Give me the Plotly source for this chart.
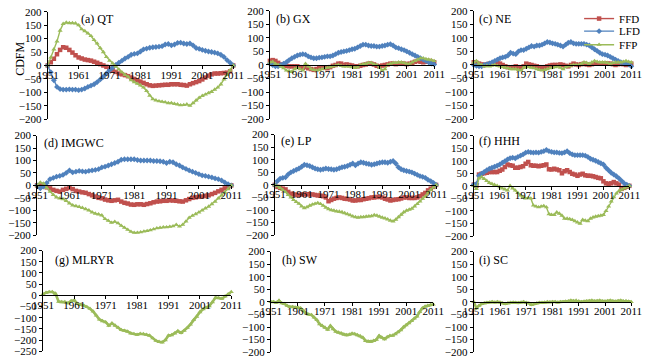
import plotly.graph_objects as go

W, H = 650, 363
years = list(range(1951, 2012))
year_ticks = [1951, 1961, 1971, 1981, 1991, 2001, 2011]

# (a) QT
qt_ffd = [0, 12, 25, 42, 58, 68, 66, 58, 48, 38,
          30, 26, 22, 20, 18, 14, 10, 5, 0, -5,
          -12, -18, -24, -30, -33, -36, -40, -45, -50, -55,
          -60, -65, -70, -74, -76, -75, -74, -73, -72, -72,
          -70, -70, -70, -72, -73, -75, -70, -66, -62, -58,
          -52, -45, -38, -33, -30, -30, -29, -28, -27, -22,
          0]
qt_lfd = [0, -25, -55, -80, -88, -90, -90, -89, -90, -90,
          -92, -90, -86, -80, -75, -70, -62, -52, -42, -30,
          -18, -8, 2, 10, 18, 26, 32, 40, 43, 45,
          52, 60, 63, 66, 68, 69, 70, 72, 78, 80,
          75, 78, 84, 85, 82, 80, 82, 75, 65, 62,
          58, 55, 52, 50, 48, 45, 40, 32, 20, 10,
          0]
qt_ffp = [0, 30, 60, 90, 130, 155, 160, 158, 158, 157,
          150, 135, 128, 120, 110, 95, 82, 65, 50, 32,
          18, 8, -3, -15, -25, -35, -42, -55, -62, -68,
          -74, -82, -95, -112, -125, -130, -133, -135, -137, -140,
          -140, -143, -145, -148, -147, -145, -150, -140, -130, -120,
          -113, -108, -103, -98, -90, -82, -70, -52, -35, -18,
          0]
# (b) GX
gx_ffd = [15, 18, 15, 8, 2, 0, -3, -5, -5, -5,
          -5, -8, -10, -8, -12, -15, -18, -15, -12, -10,
          -10, -12, -8, -3, 0, 5, 5, 0, 2, 0,
          -2, -5, -5, -3, 0, 2, 5, 5, 2, -3,
          -5, -2, 0, 2, 5, 5, 3, 5, 5, 5,
          3, 5, 8, 12, 15, 12, 10, 12, 15, 12,
          10]
gx_lfd = [5, 0, -5, -5, 0, 5, 10, 18, 25, 30,
          35, 38, 40, 38, 32, 28, 25, 25, 27, 28,
          30, 32, 32, 35, 40, 45, 48, 50, 52, 55,
          58, 60, 65, 70, 75, 75, 72, 70, 70, 68,
          68, 70, 72, 75, 77, 72, 65, 62, 58, 55,
          50, 45, 40, 35, 30, 25, 20, 15, 10, 5,
          2]
gx_ffp = [10, 12, 5, 0, -5, -12, -20, -22, -25, -15,
          -10, -15, -20, 5, -5, -15, -18, -20, -18, -15,
          -12, -10, -8, -5, -2, 0, -3, -5, -5, -5,
          -8, -10, -8, 0, 3, 5, 8, 8, 3, 0,
          -10, -20, -15, 0, 5, 8, 8, 10, 10, 8,
          5, 5, 10, 15, 20, 25, 25, 22, 20, 18,
          15]
# (c) NE
ne_ffd = [10, 8, 5, 2, 0, 2, 5, 5, 5, 8,
          5, 0, -5, -8, -10, -8, -5, -8, -10, -5,
          5, 2, 0, -3, -5, -8, -10, -8, -5, -2,
          0, 0, 0, 2, 0, -3, -5, 0, 5, 2,
          0, 3, 5, 2, 0, 3, 5, 5, 5, 5,
          5, 5, 5, 3, 0, 3, 5, 3, 0, 2,
          5]
ne_lfd = [0, -3, -5, -5, 0, 3, 6, 10, 15, 20,
          25, 28, 30, 35, 45, 42, 40, 50, 55, 55,
          60, 65, 70, 68, 72, 72, 75, 80, 85, 83,
          80, 78, 75, 72, 68, 75, 82, 85, 80, 78,
          78, 78, 78, 75, 72, 65, 58, 52, 45, 40,
          38, 35, 30, 25, 20, 15, 10, 8, 5, 2,
          -5]
ne_ffp = [10, 15, 5, 0, -5, -3, -5, -2, 0, -3,
          -5, -8, -10, -12, -15, -15, -15, -18, -20, -10,
          -5, -8, -10, -12, -15, -18, -20, -18, -15, -12,
          -10, -8, -5, -10, -15, -8, -5, -2, 0, 0,
          0, 5, 10, 8, 5, 10, 15, 12, 10, 10,
          10, 8, 5, 8, 10, 10, 10, 12, 15, 12,
          10]
# (d) IMGWC
im_ffd = [0, 0, -3, -8, -12, -18, -22, -25, -18, -14,
          -10, -15, -22, -25, -28, -30, -35, -40, -45, -50,
          -52, -57, -60, -62, -60, -58, -65, -70, -73, -77,
          -78, -76, -76, -78, -75, -72, -68, -65, -64, -62,
          -62, -60, -61, -62, -64, -65, -60, -55, -50, -48,
          -46, -45, -42, -40, -35, -30, -24, -18, -12, -6,
          0]
im_lfd = [0, -12, -5, 10, 25, 30, 35, 38, 42, 50,
          60, 52, 55, 58, 56, 55, 58, 60, 62, 65,
          72, 75, 80, 85, 90, 95, 103, 105, 105, 105,
          105, 102, 100, 100, 100, 100, 98, 98, 97, 95,
          90, 95, 93, 85, 80, 72, 66, 60, 55, 50,
          45, 40, 38, 35, 32, 28, 25, 20, 12, 5,
          0]
im_ffp = [0, 12, 8, -10, -25, -38, -48, -52, -55, -62,
          -72, -80, -83, -86, -90, -95, -100, -108, -113, -116,
          -120, -135, -142, -150, -146, -152, -162, -170, -178, -186,
          -190, -190, -188, -185, -183, -180, -176, -172, -170, -168,
          -168, -166, -164, -158, -165, -158, -145, -130, -122, -115,
          -108, -100, -92, -85, -75, -65, -52, -40, -28, -15,
          0]
# (e) LP
lp_ffd = [0, -8, -12, -15, -18, -28, -35, -38, -40, -40,
          -38, -38, -37, -38, -38, -40, -42, -43, -45, -50,
          -65, -60, -55, -52, -50, -52, -55, -56, -58, -62,
          -62, -60, -60, -57, -55, -53, -50, -50, -48, -48,
          -50, -55, -58, -62, -60, -58, -57, -54, -50, -50,
          -52, -52, -52, -50, -45, -38, -32, -22, -15, -8,
          0]
lp_lfd = [0, 15, 25, 28, 30, 42, 50, 55, 60, 65,
          72, 80, 78, 75, 70, 65, 62, 60, 62, 65,
          63, 62, 60, 62, 66, 70, 72, 75, 80, 85,
          78, 85, 90, 88, 85, 83, 80, 82, 85, 88,
          90, 90, 88, 92, 95, 85, 70, 62, 58, 55,
          53, 50, 45, 40, 35, 32, 28, 20, 15, 8,
          0]
lp_ffp = [0, -5, -12, -20, -28, -40, -50, -60, -68, -75,
          -85, -92, -88, -82, -78, -75, -72, -76, -82, -90,
          -96, -100, -102, -105, -106, -108, -112, -116, -120, -125,
          -128, -130, -128, -128, -126, -125, -124, -120, -122, -126,
          -130, -133, -137, -142, -145, -138, -128, -118, -108, -102,
          -98, -94, -85, -76, -66, -55, -45, -30, -20, -10,
          0]
# (f) HHH
hh_ffd = [5, 0, 45, 48, 50, 52, 55, 55, 55, 55,
          60, 65, 75, 85, 82, 80, 72, 72, 75, 78,
          88, 95, 82, 80, 80, 78, 80, 82, 85, 66,
          65, 68, 65, 62, 50, 58, 62, 55, 48, 45,
          40, 45, 48, 42, 40, 40, 38, 35, 32, 30,
          18, 10, 8, 10, 15, 10, 5, -12, -8, -3,
          0]
hh_lfd = [5, 8, 40, 48, 55, 62, 68, 72, 76, 80,
          85, 92, 98, 105, 110, 112, 110, 115, 120, 125,
          132, 135, 133, 132, 133, 132, 135, 138, 143, 138,
          135, 133, 133, 131, 130, 133, 138, 130, 125, 122,
          122, 122, 122, 120, 115, 108, 104, 100, 95, 90,
          85, 72, 62, 52, 45, 38, 30, 20, 10, 5,
          0]
hh_ffp = [0, -12, 30, 35, 28, 20, 12, 8, 4, 0,
          -5, -10, -14, -18, 0, -10, -18, -28, -38, -45,
          -50, -48, -50, -78, -82, -85, -82, -80, -85, -112,
          -115, -115, -105, -110, -118, -130, -130, -132, -135, -140,
          -145, -150, -135, -138, -140, -130, -125, -122, -120, -118,
          -115, -100, -82, -62, -45, -30, -20, -15, -10, -5,
          0]
# (g) MLRYR
ml_ffp = [5, 12, 15, 15, 8, -28, -30, -30, -35, -25,
          -22, -38, -42, -45, -52, -60, -72, -90, -108, -115,
          -120, -135, -125, -135, -145, -155, -158, -162, -170, -173,
          -176, -172, -173, -176, -180, -192, -203, -208, -210, -200,
          -180, -178, -170, -160, -168, -158, -145, -130, -110, -95,
          -75, -62, -55, -48, -30, -10, -12, -15, -5, 5,
          15]
# (h) SW
sw_ffp = [0, 0, -3, 5, -5, -8, -15, -20, -20, -22,
          -22, -25, -35, -45, -50, -52, -62, -72, -88, -95,
          -102, -110, -95, -108, -118, -122, -125, -130, -132, -130,
          -126, -128, -132, -136, -142, -155, -158, -158, -155, -150,
          -135, -142, -148, -140, -135, -134, -128, -120, -112, -100,
          -92, -84, -76, -66, -58, -40, -25, -18, -15, -12,
          -10]
# (i) SC
sc_ffp = [0, -25, -15, -8, -5, -3, -2, 0, -2, 0,
          -2, -5, -8, -5, -3, -2, -3, -4, -2, 0,
          -3, -5, -12, -8, -5, -3, -3, -2, 0, -1,
          0, 0, -2, 0, 0, 2, 3, 5, 4, 5,
          3, 0, 2, 3, 4, 5, 3, 4, 5, 3,
          2, 4, 5, 3, 2, 4, 5, 3, 4, 2,
          0]

RED, BLUE, GREEN = "#C0504D", "#4F81BD", "#9BBB59"
FONT = "Liberation Serif"
styles = {
    "FFD": dict(color=RED, symbol="square", size=4.5, legend="legend", ly=13),
    "LFD": dict(color=BLUE, symbol="diamond", size=4.5, legend="legend2", ly=26),
    "FFP": dict(color=GREEN, symbol="triangle-up", size=4.5, legend="legend3", ly=40),
}

# title, series, pixel box (x0, x1, ytop, ybottom), y range, title pos
panels = [
    ("(a) QT", [("FFD", qt_ffd), ("LFD", qt_lfd), ("FFP", qt_ffp)], (38, 230, 6, 117), (-200, 200), (70, 13)),
    ("(b) GX", [("FFD", gx_ffd), ("LFD", gx_lfd), ("FFP", gx_ffp)], (268, 438, 5, 117), (-200, 200), (272, 13)),
    ("(c) NE", [("FFD", ne_ffd), ("LFD", ne_lfd), ("FFP", ne_ffp)], (479, 642, 5, 117), (-200, 200), (482, 13)),
    ("(d) IMGWC", [("FFD", im_ffd), ("LFD", im_lfd), ("FFP", im_ffp)], (27, 228, 134, 237), (-200, 200), (32, 142)),
    ("(e) LP", [("FFD", lp_ffd), ("LFD", lp_lfd), ("FFP", lp_ffp)], (273, 440, 133, 237), (-200, 200), (277, 140)),
    ("(f) HHH", [("FFD", hh_ffd), ("LFD", hh_lfd), ("FFP", hh_ffp)], (479, 640, 134, 238), (-200, 200), (482, 140)),
    ("(g) MLRYR", [("FFP", ml_ffp)], (33, 228, 253, 357), (-250, 200), (43, 263)),
    ("(h) SW", [("FFP", sw_ffp)], (269, 437, 254, 358), (-200, 200), (278, 263)),
    ("(i) SC", [("FFP", sc_ffp)], (479, 642, 254, 358), (-200, 200), (482, 263)),
]

fig = go.Figure()
annotations = []
layout = {}
for i, (title, series, box, yr, tpos) in enumerate(panels, start=1):
    sx = "" if i == 1 else str(i)
    x0, x1, yt, yb = box
    big = i >= 7
    for name, vals in series:
        st = styles[name]
        fig.add_trace(go.Scatter(
            x=years, y=vals, mode="lines+markers", name=name,
            xaxis="x" + sx, yaxis="y" + sx,
            line=dict(color=st["color"], width=2.6 if big else 1.4),
            marker=dict(color=st["color"], symbol=st["symbol"], size=st["size"]),
            showlegend=(i == 3), legend=st["legend"], cliponaxis=False,
        ))
    dom_b = 1 - yb / H
    dom_t = 1 - yt / H
    zero_pos = dom_b + (0 - yr[0]) / (yr[1] - yr[0]) * (dom_t - dom_b)
    layout["xaxis" + sx] = dict(
        domain=[x0 / W, x1 / W], range=[1951, 2011], anchor="free", position=zero_pos,
        tickvals=year_ticks, ticks="outside", ticklen=3, tickcolor="black",
        ticklabelstandoff=-4,
        showline=True, linecolor="black", linewidth=1, showgrid=False, zeroline=False,
        tickfont=dict(family=FONT, size=11, color="black"),
    )
    layout["yaxis" + sx] = dict(
        domain=[dom_b, dom_t], range=list(yr), anchor="x" + sx, dtick=50,
        ticks="outside", ticklen=3, tickcolor="black",
        showline=True, linecolor="black", linewidth=1, showgrid=False, zeroline=False,
        tickfont=dict(family=FONT, size=11, color="black"),
    )
    annotations.append(dict(
        text=title, x=tpos[0] / W, y=1 - tpos[1] / H, xref="paper", yref="paper",
        xanchor="left", yanchor="middle", showarrow=False,
        font=dict(family=FONT, size=12, color="black"),
    ))

annotations.append(dict(
    text="CDFM", x=10 / W, y=1 - 55 / H, xref="paper", yref="paper", textangle=-90,
    xanchor="center", yanchor="middle", showarrow=False,
    font=dict(family=FONT, size=12, color="black"),
))

for name, st in styles.items():
    layout[st["legend"]] = dict(
        x=588 / W, y=1 - st["ly"] / H, xanchor="left", yanchor="middle",
        font=dict(family=FONT, size=11, color="black"),
        bgcolor="rgba(0,0,0,0)", itemwidth=30,
    )

fig.update_layout(
    width=W, height=H, margin=dict(l=0, r=0, t=0, b=0),
    paper_bgcolor="white", plot_bgcolor="white",
    annotations=annotations,
    **layout,
)
fig.write_html("out.html", config={"displayModeBar": False},
               post_script="document.body.style.margin='0';document.body.style.padding='0';")
